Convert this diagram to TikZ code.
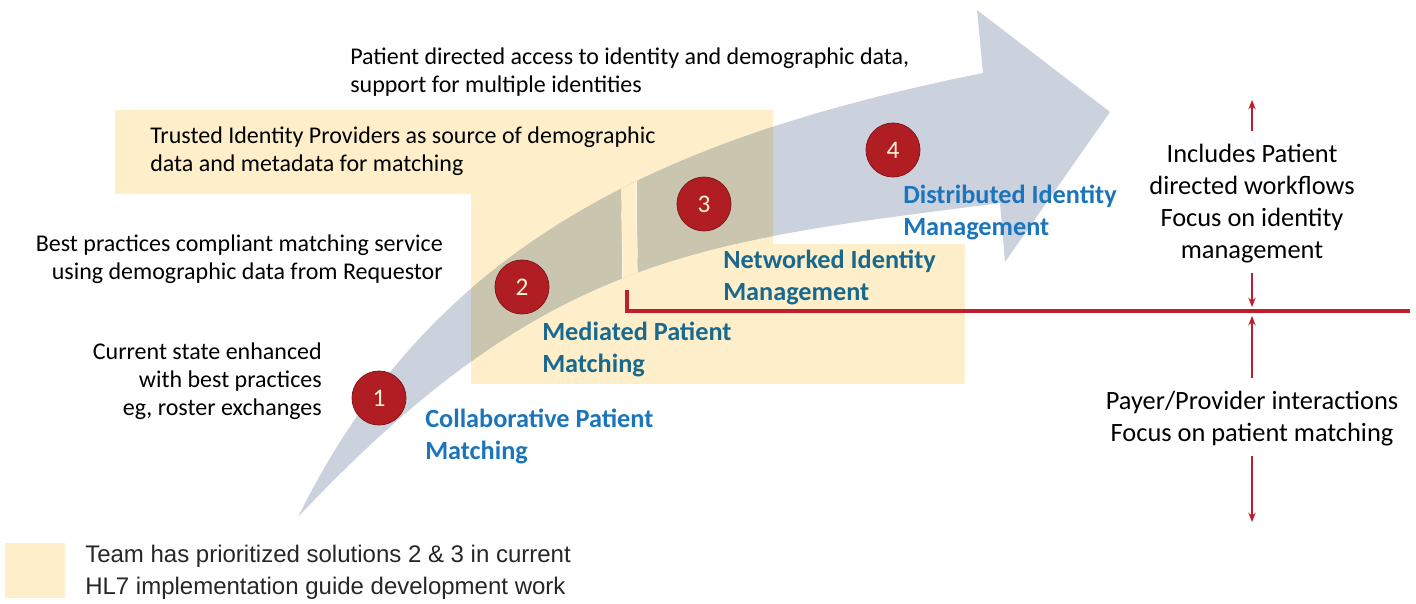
\documentclass[tikz,border=0pt]{standalone}
\usepackage{fontspec}
\setmainfont{Carlito}
\newfontfamily\legendfont{Liberation Sans}
\usepackage{xcolor}
\usepackage{tikz}
\usetikzlibrary{arrows.meta, positioning}
\definecolor{bandgray}{HTML}{CBD2DE}
\definecolor{bandtan}{HTML}{CAC5AE}
\definecolor{prioyellow}{HTML}{FEEFCA}
\definecolor{numred}{HTML}{B01E24}
\definecolor{linered}{HTML}{BE1E2D}
\definecolor{phaseblue}{HTML}{1B75BC}
\definecolor{phaseteal}{HTML}{19698F}
\definecolor{numcream}{HTML}{FFF3D6}
\newcommand{\bandpath}{(298,517) .. controls (430,250) and (650,140) .. (983,73) -- (977,10) -- (1110,112) -- (1005,262) -- (1000,203) .. controls (700,242) and (548,252) .. (298,517) -- cycle}
\newcommand{\prioregion}{(115,110) -- (773,110) -- (773,244) -- (965,244) -- (965,384) -- (471,384) -- (471,194) -- (115,194) -- cycle}
\tikzset{note/.style={inner sep=0pt,font=\fontsize{18}{21}\selectfont,align=left},
         noter/.style={inner sep=0pt,font=\fontsize{18}{21}\selectfont,align=right},
         phase/.style={inner sep=0pt,font=\fontsize{19.7}{24}\selectfont\bfseries,align=left,text=phaseblue},
         sidetext/.style={inner sep=0pt,font=\fontsize{19.8}{24}\selectfont,align=center},
         stepnum/.style={circle,fill=numred,draw=numred!75!black,line width=0.6pt,minimum size=40.5pt,inner sep=0pt,text=numcream,font=\fontsize{19}{20}\selectfont},
         legendtext/.style={inner sep=0pt,font=\legendfont\fontsize{18}{24}\selectfont,align=left,text=black!85},
         redline/.style={linered,line width=2.6pt},
         redarrow/.style={linered,line width=1.4pt,-{Stealth[length=7pt,width=5.5pt]}}}

\begin{document}
\begin{tikzpicture}[x=0.75pt,y=-0.75pt]
    \useasboundingbox (0,0) rectangle (1416,603);
    % Prioritized region
    \fill[prioyellow] \prioregion;
    % Roadmap band
    \fill[bandgray] \bandpath;
    \begin{scope}
      \clip \prioregion;
      \fill[bandtan] \bandpath;
    \end{scope}
    \begin{scope}
      \clip \bandpath;
      \fill[prioyellow] (622,160) rectangle (637,310);
      \draw[white,line width=0.3pt] (622,160) .. controls (620,220) and (624,250) .. (622,310);
      \draw[white,line width=0.3pt] (637,160) .. controls (635,220) and (639,250) .. (637,310);
    \end{scope}
    % Split line
    \coordinate (split top) at (627,290);
    \coordinate (split right) at (1410,311);
    \draw[redline] (split top) |- (split right);
    % Steps
    \node (n1) at (379,398) [stepnum]{1};
    \node (n2) at (522,287) [stepnum]{2};
    \node (n3) at (704,204) [stepnum]{3};
    \node (n4) at (893,150) [stepnum]{4};
    % Phase labels
    \node (lab1) at (425,436) [phase,anchor=west]{Collaborative Patient\\Matching};
    \node (lab2) at (542,349) [phase,anchor=west,text=phaseteal]{Mediated Patient\\Matching};
    \node (lab3) at (723,277.5) [phase,anchor=west,text=phaseteal]{Networked Identity\\Management};
    \node (lab4) at (903,212.5) [phase,anchor=west]{Distributed Identity\\Management};
    % Notes
    \node (pdir) at (350,72) [note,anchor=west]{Patient directed access to identity and demographic data,\\support for multiple identities};
    \node (trust) at (150,151.5) [note,anchor=west]{Trusted Identity Providers as source of demographic\\data and metadata for matching};
    \node (best) at (443,259) [noter,anchor=east]{Best practices compliant matching service\\using demographic data from Requestor};
    \node (curr) at (322,381.5) [noter,anchor=east]{Current state enhanced\\with best practices\\eg, roster exchanges};
    % Scope of work
    \node (incl) at (1252,204) [sidetext]{Includes Patient\\directed workflows\\Focus on identity\\management};
    \node (payer) at (1252,419) [sidetext]{Payer/Provider interactions\\Focus on patient matching};
    \coordinate (incl tip) at (1252,100);
    \coordinate (incl foot) at (1252,307);
    \coordinate (payer tip) at (1252,316);
    \coordinate (payer foot) at (1252,522);
    \draw[redarrow,shorten <=10pt] (incl.north) -- (incl tip);
    \draw[redarrow,shorten <=7pt] (incl.south) -- (incl foot);
    \draw[redarrow,shorten <=10pt] (payer.north) -- (payer tip);
    \draw[redarrow,shorten <=7pt] (payer.south) -- (payer foot);
    % Legend
    \node (legend box) at (35,570.5) [fill=prioyellow,minimum width=45pt,minimum height=41pt]{};
    \node (legend) at (85,572) [legendtext,anchor=west]{Team has prioritized solutions 2 \& 3 in current\\HL7 implementation guide development work};
  \end{tikzpicture}
\end{document}
